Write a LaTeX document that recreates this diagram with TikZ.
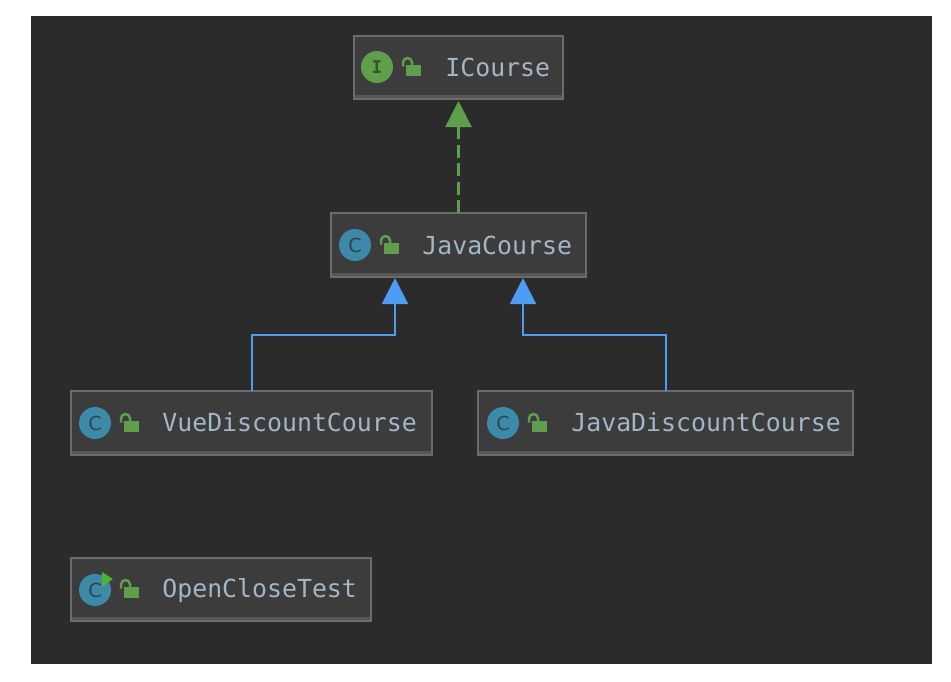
\documentclass[tikz,border=0pt]{standalone}
\usepackage{fontspec}
\setmonofont{DejaVu Sans Mono}
\setsansfont{DejaVu Sans}
\usetikzlibrary{arrows.meta}
\definecolor{canvas}{HTML}{2b2b2b}
\definecolor{boxfill}{HTML}{3c3c3c}
\definecolor{boxline}{HTML}{6b6b6b}
\definecolor{boxband}{HTML}{565656}
\definecolor{labeltext}{HTML}{a4b5c8}
\definecolor{implgreen}{HTML}{5f9e4a}
\definecolor{extblue}{HTML}{4f9cf5}
\definecolor{classteal}{HTML}{3d8aa8}
\definecolor{classletter}{HTML}{2a4552}
\definecolor{ifaceletter}{HTML}{34552b}
\definecolor{playgreen}{HTML}{4fb332}
\tikzset{
  umlbox/.style={rectangle, draw=boxline, fill=boxfill, line width=0.04cm, outer sep=0pt, minimum height=1.27cm},
  umlband/.style={draw=boxband, line width=0.06cm},
  umltext/.style={anchor=west, inner sep=0pt, text=labeltext, font=\ttfamily\fontsize{14.15}{16}\selectfont},
  classicon/.style={circle, fill=classteal, text=classletter, minimum size=0.64cm, inner sep=0pt, font=\sffamily\fontsize{11}{11}\selectfont},
  ifaceicon/.style={circle, fill=implgreen, text=ifaceletter, minimum size=0.64cm, inner sep=0pt, font=\ttfamily\bfseries\fontsize{10}{10}\selectfont},
  implarrow/.style={draw=implgreen, line width=0.05cm, dash pattern=on 0.26cm off 0.11cm, -{Triangle[length=0.52cm,width=0.52cm,fill=implgreen,sep=0pt]}},
  extarrow/.style={draw=extblue, line width=0.04cm, -{Triangle[length=0.52cm,width=0.52cm,fill=extblue]}},
  lockicon/.pic={
    \fill[implgreen] (0,-11) rectangle (15,0);
    \draw[implgreen, line width=0.05cm] (-3,-9.5) -- (-3,-13.5) arc (180:360:4.5) -- (6,-11);
  }
}
\begin{document}
\begin{tikzpicture}[x=0.02cm, y=-0.02cm]
\useasboundingbox (0,0) rectangle (951,681);

\fill[canvas] (31,16) rectangle (932,664);

% boxes
\node (ICourse) at (458.5,67.5) [umlbox, minimum width=4.18cm] {};
\node (JavaCourse) at (458.5,245) [umlbox, minimum width=5.1cm] {};
\node (VueDiscountCourse) at (251.5,423) [umlbox, minimum width=7.22cm] {};
\node (JavaDiscountCourse) at (665.5,423) [umlbox, minimum width=7.5cm] {};
\node (OpenCloseTest) at (221,589.5) [umlbox, minimum width=6cm] {};

\draw[umlband] (355,96.5) -- (562,96.5);
\draw[umlband] (332,274.5) -- (585,274.5);
\draw[umlband] (72,452.5) -- (431,452.5);
\draw[umlband] (479,452.5) -- (852,452.5);
\draw[umlband] (72,618.5) -- (370,618.5);

% labels
\node (ICourseText) at (445,67) [umltext] {ICourse};
\node (JavaCourseText) at (422,245) [umltext] {JavaCourse};
\node (VueDiscountCourseText) at (162,422.5) [umltext] {VueDiscountCourse};
\node (JavaDiscountCourseText) at (571,422.5) [umltext] {JavaDiscountCourse};
\node (OpenCloseTestText) at (162,591) [umltext] {OpenCloseTest};

% icons
\node (ICourseIcon) at (377,67) [ifaceicon] {I};
\node (JavaCourseIcon) at (355,245) [classicon] {C};
\node (VueDiscountCourseIcon) at (95,423) [classicon] {C};
\node (JavaDiscountCourseIcon) at (503,423) [classicon] {C};
\node (OpenCloseTestIcon) at (95,590) [classicon] {C};
\fill[playgreen] (102,572) -- (113,579) -- (102,587) -- cycle;

\pic at (406,76) {lockicon};
\pic at (384,254) {lockicon};
\pic at (124,432) {lockicon};
\pic at (532,432) {lockicon};
\pic at (124,598) {lockicon};

% arrows
\coordinate (vuecorner) at (251.5,335);
\coordinate (vuetarget) at (395,278);
\coordinate (javacorner) at (665.5,335);
\coordinate (javatarget) at (523,278);
\coordinate (icoursetarget) at (458.5,101);

\draw[implarrow] (JavaCourse.north) -- (icoursetarget);
\draw[extarrow] (VueDiscountCourse.north) -- (vuecorner) -| (vuetarget);
\draw[extarrow] (JavaDiscountCourse.north) -- (javacorner) -| (javatarget);

\end{tikzpicture}
\end{document}
